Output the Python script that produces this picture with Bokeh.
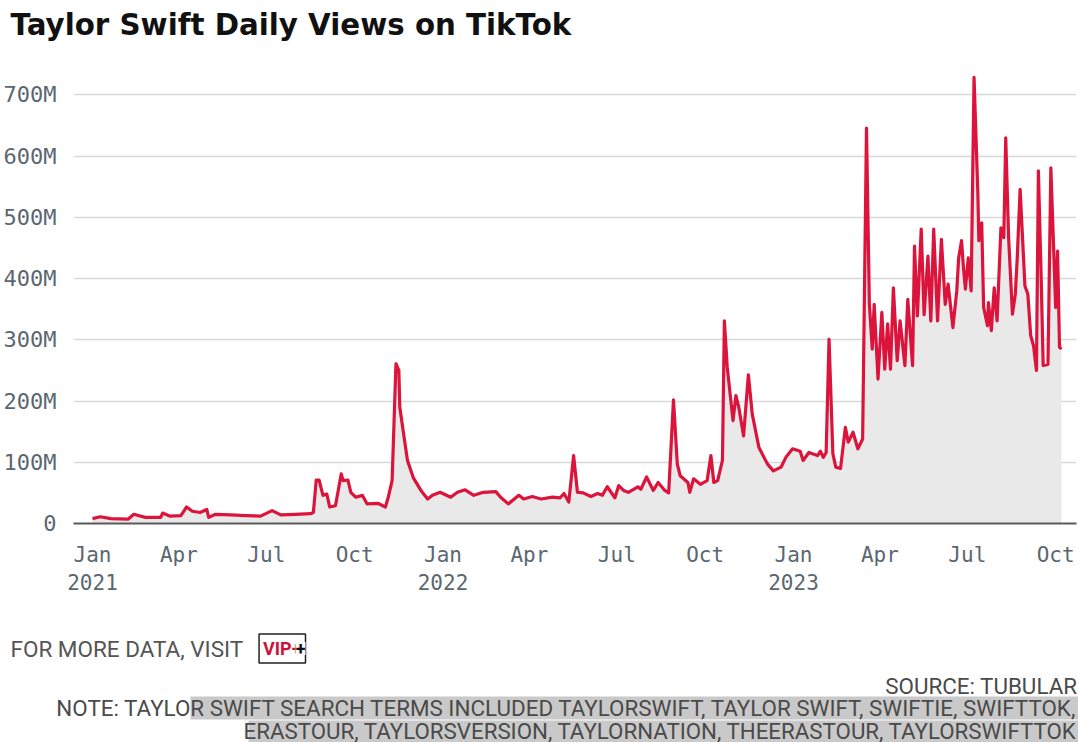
import pandas as pd
from bokeh.plotting import figure
from bokeh.layouts import column
from bokeh.models import ColumnDataSource, FixedTicker, Label, Range1d, BoxAnnotation
from bokeh.embed import file_html
from bokeh.resources import INLINE

# ---------------- data ----------------
dates = [
    "2021-01-01", "2021-01-09", "2021-01-20", "2021-02-07", "2021-02-13", "2021-02-25",
    "2021-03-13", "2021-03-15", "2021-03-23", "2021-04-03", "2021-04-09", "2021-04-15",
    "2021-04-23", "2021-04-30", "2021-05-02", "2021-05-09", "2021-05-25", "2021-06-09",
    "2021-06-25", "2021-07-07", "2021-07-16", "2021-07-31", "2021-08-16", "2021-08-19",
    "2021-08-22", "2021-08-25", "2021-08-29", "2021-09-02", "2021-09-05", "2021-09-11",
    "2021-09-17", "2021-09-19", "2021-09-24", "2021-09-27", "2021-10-02", "2021-10-09",
    "2021-10-14", "2021-10-25", "2021-11-02", "2021-11-05", "2021-11-09", "2021-11-13",
    "2021-11-16", "2021-11-17", "2021-11-21", "2021-11-25", "2021-12-01", "2021-12-09",
    "2021-12-16", "2021-12-21", "2021-12-29",
    "2022-01-09", "2022-01-16", "2022-01-24", "2022-02-02", "2022-02-12", "2022-02-25",
    "2022-03-02", "2022-03-10", "2022-03-21", "2022-03-26", "2022-04-04", "2022-04-13",
    "2022-04-25", "2022-05-03", "2022-05-07", "2022-05-12", "2022-05-17", "2022-05-21",
    "2022-05-27", "2022-06-04", "2022-06-11", "2022-06-16", "2022-06-21", "2022-06-29",
    "2022-07-03", "2022-07-08", "2022-07-13", "2022-07-23", "2022-07-26", "2022-08-01",
    "2022-08-08", "2022-08-13", "2022-08-20", "2022-08-24", "2022-08-29", "2022-09-02",
    "2022-09-05", "2022-09-13", "2022-09-15", "2022-09-19", "2022-09-26", "2022-10-03",
    "2022-10-07", "2022-10-10", "2022-10-14", "2022-10-19", "2022-10-21", "2022-10-24",
    "2022-10-30", "2022-11-02", "2022-11-05", "2022-11-10", "2022-11-15", "2022-11-19",
    "2022-11-26", "2022-12-05", "2022-12-11", "2022-12-19", "2022-12-24", "2022-12-31",
    "2023-01-08", "2023-01-11", "2023-01-17", "2023-01-26", "2023-01-29", "2023-02-01",
    "2023-02-04", "2023-02-07", "2023-02-11", "2023-02-14", "2023-02-19", "2023-02-24",
    "2023-02-27", "2023-03-04", "2023-03-09", "2023-03-14", "2023-03-18", "2023-03-21",
    "2023-03-24", "2023-03-26", "2023-03-30", "2023-04-03", "2023-04-06", "2023-04-09",
    "2023-04-12", "2023-04-15", "2023-04-19", "2023-04-22", "2023-04-27", "2023-04-30",
    "2023-05-05", "2023-05-07", "2023-05-10", "2023-05-14", "2023-05-17", "2023-05-21",
    "2023-05-24", "2023-05-27", "2023-05-31", "2023-06-04", "2023-06-08", "2023-06-11",
    "2023-06-16", "2023-06-20", "2023-06-22", "2023-06-25", "2023-06-27", "2023-06-29",
    "2023-07-02", "2023-07-05", "2023-07-08", "2023-07-12", "2023-07-13", "2023-07-16",
    "2023-07-18", "2023-07-22", "2023-07-23", "2023-07-26", "2023-07-29", "2023-08-01",
    "2023-08-05", "2023-08-08", "2023-08-10", "2023-08-13", "2023-08-17", "2023-08-20",
    "2023-08-22", "2023-08-25", "2023-08-30", "2023-09-02", "2023-09-05", "2023-09-08",
    "2023-09-11", "2023-09-13", "2023-09-16", "2023-09-18", "2023-09-23", "2023-09-26",
    "2023-09-29", "2023-10-01", "2023-10-03", "2023-10-05", "2023-10-07",
]

views_millions = [
    8, 11, 8, 7, 15, 10,
    10, 17, 12, 13, 27, 20,
    18, 23, 10, 15, 14, 13,
    12, 21, 14, 15, 16, 18,
    71, 71, 46, 48, 27, 29,
    81, 70, 71, 51, 43, 46,
    32, 33, 27, 43, 70, 261,
    250, 190, 146, 103, 75, 54,
    40, 46, 51,
    43, 51, 55, 46, 51, 52,
    43, 32, 46, 40, 44, 40,
    43, 42, 49, 35, 111, 51,
    50, 44, 49, 46, 60, 42,
    62, 54, 51, 60, 56, 76,
    54, 67, 54, 50, 202, 97,
    78, 67, 51, 73, 64, 70,
    111, 67, 70, 103, 331, 255,
    168, 209, 190, 143, 243, 179,
    124, 97, 86, 92, 108, 122,
    118, 103, 116, 111, 118, 108,
    116, 301, 114, 92, 90, 157,
    133, 149, 122, 138, 646, 358,
    285, 358, 236, 345, 252, 326,
    252, 385, 266, 331, 258, 366,
    258, 453, 339, 481, 341, 437,
    331, 481, 331, 464, 358, 391,
    320, 380, 434, 462, 418, 383,
    434, 380, 729, 538, 462, 491,
    353, 323, 361, 315, 385, 331,
    483, 467, 630, 467, 342, 375,
    434, 546, 388, 375, 307, 290,
    250, 576, 396, 258, 260, 581,
    445, 353, 445, 288, 285,
]

tick_dates = ["2021-01-01", "2021-04-01", "2021-07-01", "2021-10-01",
              "2022-01-01", "2022-04-01", "2022-07-01", "2022-10-01",
              "2023-01-01", "2023-04-01", "2023-07-01", "2023-10-01"]
tick_labels = ["Jan\n2021", "Apr", "Jul", "Oct",
               "Jan\n2022", "Apr", "Jul", "Oct",
               "Jan\n2023", "Apr", "Jul", "Oct"]

y_ticks = [0, 100, 200, 300, 400, 500, 600, 700]
y_tick_labels = ["0", "100M", "200M", "300M", "400M", "500M", "600M", "700M"]

title_text = "Taylor Swift Daily Views on TikTok"
more_data_text = "FOR MORE DATA, VISIT"
vip_text = "VIP+"
source_text = "SOURCE: TUBULAR"
note_line1 = "NOTE: TAYLOR SWIFT SEARCH TERMS INCLUDED TAYLORSWIFT, TAYLOR SWIFT, SWIFTIE, SWIFTTOK,"
note_line2 = "ERASTOUR, TAYLORSVERSION, TAYLORNATION, THEERASTOUR, TAYLORSWIFTTOK"

# ---------------- styling ----------------
W = 1078
LINE_COLOR = "#dc143c"
FILL_COLOR = "#e9e9e9"
GRID_COLOR = "#d5d9d9"
TICK_COLOR = "#5b6770"
FOOT_COLOR = "#4a4a4a"
MONO = "DejaVu Sans Mono"
SANS = "Roboto"


def text_panel(height):
    f = figure(width=W, height=height, output_backend="svg", toolbar_location=None,
               x_axis_location=None, y_axis_location=None,
               x_range=Range1d(0, W), y_range=Range1d(0, height),
               min_border=0, min_border_left=0, min_border_right=0,
               min_border_top=0, min_border_bottom=0)
    f.outline_line_color = None
    f.grid.visible = False
    if "frame_align" in f.properties():
        f.frame_align = False
    return f


# ---------------- header ----------------
HEADER_H = 60
header = text_panel(HEADER_H)
header.add_layout(Label(x=10, y=HEADER_H - 24.5, x_units="screen", y_units="screen",
                        text=title_text, text_font="DejaVu Sans", text_font_style="bold",
                        text_font_size="29.3px", text_color="#111111",
                        text_baseline="middle", text_align="left"))

# ---------------- main chart ----------------
dt = pd.to_datetime(dates)
source = ColumnDataSource(dict(date=dt, views=views_millions))

x_start = pd.Timestamp("2021-01-01") - pd.Timedelta(days=19.8)
x_end = x_start + pd.Timedelta(days=1044.5)

p = figure(
    width=W, height=540,
    x_axis_type="datetime",
    output_backend="svg",
    toolbar_location=None,
    x_range=Range1d(x_start, x_end),
    y_range=Range1d(0, 740),
    min_border_left=73, min_border_right=2,
    min_border_top=10, min_border_bottom=77,
)
p.outline_line_color = None

p.varea(x="date", y1=0, y2="views", source=source, fill_color=FILL_COLOR)
p.line(x="date", y="views", source=source, line_color=LINE_COLOR,
       line_width=3.2, line_join="round")

tick_ms = [int(pd.Timestamp(d).value // 10**6) for d in tick_dates]
xa = p.xaxis[0]
xa.ticker = FixedTicker(ticks=tick_ms)
xa.major_label_overrides = {t: lab for t, lab in zip(tick_ms, tick_labels)}
xa.major_tick_line_color = None
xa.minor_tick_line_color = None
xa.axis_line_color = "#5a5a5a"
xa.axis_line_width = 2
xa.major_label_text_font = MONO
xa.major_label_text_font_size = "21px"
xa.major_label_text_color = TICK_COLOR
xa.major_label_standoff = 13

ya = p.yaxis[0]
ya.ticker = FixedTicker(ticks=y_ticks)
ya.major_label_overrides = {t: lab for t, lab in zip(y_ticks, y_tick_labels)}
ya.major_tick_line_color = None
ya.minor_tick_line_color = None
ya.axis_line_color = None
ya.major_label_text_font = MONO
ya.major_label_text_font_size = "22px"
ya.major_label_text_color = TICK_COLOR
ya.major_label_standoff = 11

p.xgrid.visible = False
p.ygrid.grid_line_color = GRID_COLOR
p.ygrid.grid_line_width = 1.5

# ---------------- footer ----------------
FOOT_TOP = 600
FOOT_H = 142
footer = text_panel(FOOT_H)


def fy(page_y):
    return FOOT_TOP + FOOT_H - page_y


# selection-like grey highlight behind the note
footer.add_layout(BoxAnnotation(left=190, right=W, bottom=fy(719), top=fy(696),
                                fill_color="#c9c9c9", fill_alpha=1.0, line_color=None))
footer.add_layout(BoxAnnotation(left=248, right=W, bottom=fy(742), top=fy(720),
                                fill_color="#c9c9c9", fill_alpha=1.0, line_color=None))

footer.add_layout(Label(x=10, y=fy(648), x_units="screen", y_units="screen",
                        text=more_data_text, text_font=SANS, text_font_size="22.5px",
                        text_color="#555555", text_baseline="middle", text_align="left"))

footer.add_layout(Label(x=305, y=fy(648), x_units="screen", y_units="screen",
                        text=vip_text, text_font=SANS, text_font_style="bold",
                        text_font_size="18px", text_color="#d0103a",
                        text_baseline="middle", text_align="right",
                        border_line_color="#222222", border_line_width=1.5,
                        background_fill_color="white", padding=4))
footer.add_layout(Label(x=305, y=fy(648), x_units="screen", y_units="screen",
                        text="+", text_font=SANS, text_font_style="bold",
                        text_font_size="18px", text_color="#111111",
                        text_baseline="middle", text_align="right",
                        background_fill_color="white", padding=0))

footer.add_layout(Label(x=1077, y=fy(685), x_units="screen", y_units="screen",
                        text=source_text, text_font=SANS, text_font_size="22.4px",
                        text_color=FOOT_COLOR, text_baseline="middle", text_align="right"))
footer.add_layout(Label(x=1077, y=fy(707.5), x_units="screen", y_units="screen",
                        text=note_line1, text_font=SANS, text_font_size="22.4px",
                        text_color=FOOT_COLOR, text_baseline="middle", text_align="right"))
footer.add_layout(Label(x=1077, y=fy(730), x_units="screen", y_units="screen",
                        text=note_line2, text_font=SANS, text_font_size="22.3px",
                        text_color=FOOT_COLOR, text_baseline="middle", text_align="right"))

layout = column(header, p, footer, spacing=0)
open("out.html", "w").write(file_html(layout, INLINE))
